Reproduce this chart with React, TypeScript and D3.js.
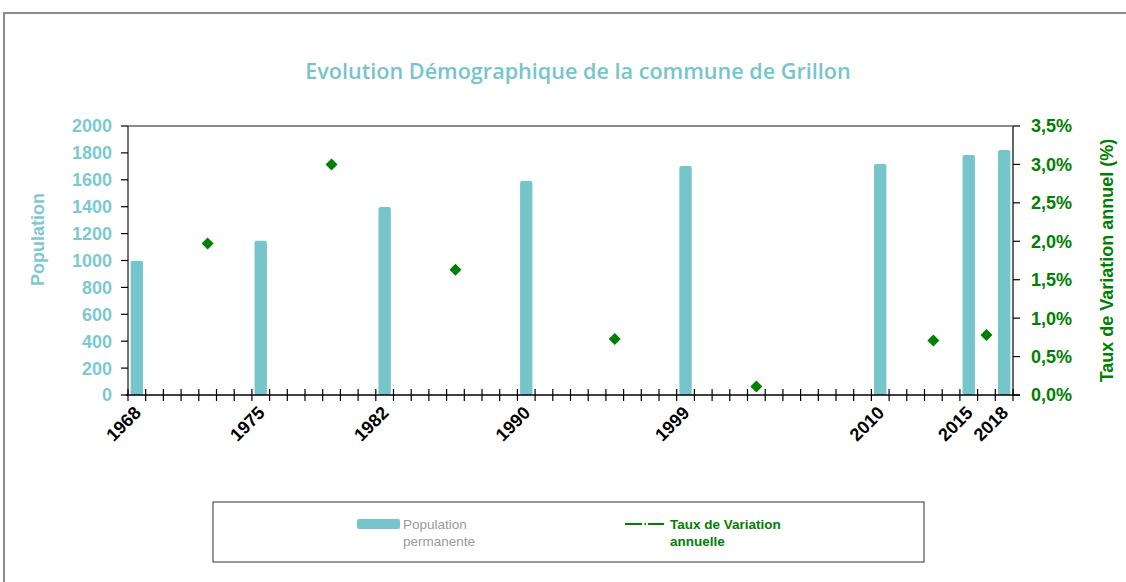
import * as d3 from "d3";

// census years as they sit on the date axis, and the labels printed under them
const censusYears = [1968, 1975, 1982, 1990, 1999, 2010, 2015, 2017];
const censusLabels = ["1968", "1975", "1982", "1990", "1999", "2010", "2015", "2018"];
const population = [998, 1147, 1398, 1591, 1703, 1717, 1784, 1822];

// annual variation rate, plotted between censuses
const rateYears = [1972, 1979, 1986, 1995, 2003, 2013, 2016];
const rateValues = [1.97, 3.0, 1.63, 0.73, 0.11, 0.71, 0.78];

const popTicks = [0, 200, 400, 600, 800, 1000, 1200, 1400, 1600, 1800, 2000];
const rateTicks = [0, 0.5, 1, 1.5, 2, 2.5, 3, 3.5];

const TEAL = "#76C5CB";
const TEAL_TEXT = "#7DC9CF";
const GREEN = "#008000";
const FONT = "'Liberation Sans', Arial, sans-serif";

const W = 1126;
const H = 582;
const margin = { left: 128, right: 113, top: 126, bottom: 187 };

export default function App() {
  const innerL = margin.left;
  const innerR = W - margin.right;
  const innerT = margin.top;
  const innerB = H - margin.bottom;

  const x = d3.scaleLinear().domain([1968, 2018]).range([innerL, innerR]);
  const yPop = d3.scaleLinear().domain([0, 2000]).range([innerB, innerT]);
  const yRate = d3.scaleLinear().domain([0, 3.5]).range([innerB, innerT]);

  const slot = x(1969) - x(1968);
  const barW = slot * 0.7;
  const yearTicks = d3.range(1968, 2019);
  const fmtRate = (v: number) => d3.format(".1f")(v).replace(".", ",") + "%";

  return (
    <svg
      width={W}
      height={H}
      style={{ position: "absolute", left: 0, top: 0, background: "#fff" }}
      fontFamily={FONT}
    >
      {/* chart frame, runs off the bottom/right of the picture */}
      <rect x={4} y={13} width={W} height={H} fill="#fff" stroke="#8c8c8c" strokeWidth={2} />

      <text
        x={578}
        y={79}
        textAnchor="middle"
        fill={TEAL}
        fontSize={21.6}
        fontWeight={600}
        fontFamily="'Open Sans', sans-serif"
      >
        Evolution Démographique de la commune de Grillon
      </text>

      {/* plot frame */}
      <line x1={innerL} x2={innerR} y1={innerT} y2={innerT} stroke="#666" strokeWidth={1.5} />
      <line x1={innerR} x2={innerR} y1={innerT} y2={innerB} stroke="#666" strokeWidth={2} />
      <line x1={innerL} x2={innerL} y1={innerT} y2={innerB} stroke="#444" strokeWidth={1.5} />

      {/* bars */}
      {censusYears.map((yr, i) => {
        const cx = x(yr + 0.5);
        return (
          <rect
            key={yr}
            x={cx - barW / 2}
            y={yPop(population[i])}
            width={barW}
            height={innerB - yPop(population[i])}
            rx={2}
            fill={TEAL}
          />
        );
      })}

      {/* x axis */}
      <line x1={innerL - 2} x2={innerR + 7} y1={innerB} y2={innerB} stroke="#000" strokeWidth={1.5} />
      {yearTicks.map((yr) => (
        <line key={yr} x1={x(yr)} x2={x(yr)} y1={innerB - 6} y2={innerB + 6} stroke="#000" strokeWidth={1.2} />
      ))}
      {censusLabels.map((label, i) => (
        <text
          key={label}
          transform={`translate(${x(censusYears[i]) + 14},${innerB + 19}) rotate(-45)`}
          textAnchor="end"
          fontSize={18}
          fontWeight="bold"
          fill="#000"
        >
          {label}
        </text>
      ))}

      {/* left axis */}
      {popTicks.map((t) => (
        <g key={t}>
          <line x1={innerL - 7} x2={innerL} y1={yPop(t)} y2={yPop(t)} stroke="#000" strokeWidth={1.2} />
          <text x={innerL - 16} y={yPop(t)} dy="0.36em" textAnchor="end" fontSize={18} fontWeight="bold" fill={TEAL_TEXT}>
            {t}
          </text>
        </g>
      ))}
      <text
        transform={`translate(44,${(innerT + innerB) / 2 - 21}) rotate(-90)`}
        textAnchor="middle"
        fontSize={18}
        fontWeight="bold"
        fill={TEAL_TEXT}
      >
        Population
      </text>

      {/* right axis */}
      {rateTicks.map((t) => (
        <g key={t}>
          <line x1={innerR} x2={innerR + 7} y1={yRate(t)} y2={yRate(t)} stroke="#000" strokeWidth={1.2} />
          <text x={innerR + 18} y={yRate(t)} dy="0.36em" fontSize={18} fontWeight="bold" fill={GREEN}>
            {fmtRate(t)}
          </text>
        </g>
      ))}
      <text
        transform={`translate(1113,${(innerT + innerB) / 2}) rotate(-90)`}
        textAnchor="middle"
        fontSize={18}
        fontWeight="bold"
        fill={GREEN}
      >
        Taux de Variation annuel (%)
      </text>

      {/* rate markers */}
      {rateYears.map((yr, i) => {
        const cx = x(yr + 0.5);
        const cy = yRate(rateValues[i]);
        const r = 6;
        return (
          <path
            key={yr}
            d={`M${cx},${cy - r}L${cx + r},${cy}L${cx},${cy + r}L${cx - r},${cy}Z`}
            fill={GREEN}
          />
        );
      })}

      {/* legend */}
      <rect x={213} y={502} width={711} height={60} fill="#fff" stroke="#333" strokeWidth={1} />
      <rect x={357} y={519} width={43} height={10} rx={2} fill={TEAL} />
      <text x={403} y={529} fontSize={13.5} fill="#9a9a9a">
        Population
      </text>
      <text x={403} y={546} fontSize={13.5} fill="#9a9a9a">
        permanente
      </text>
      <line x1={625} x2={642} y1={524} y2={524} stroke={GREEN} strokeWidth={2} />
      <line x1={644.5} x2={646} y1={524} y2={524} stroke={GREEN} strokeWidth={2} />
      <line x1={648} x2={664} y1={524} y2={524} stroke={GREEN} strokeWidth={2} />
      <text x={670} y={529} fontSize={13.5} fontWeight="bold" fill={GREEN}>
        Taux de Variation
      </text>
      <text x={670} y={546} fontSize={13.5} fontWeight="bold" fill={GREEN}>
        annuelle
      </text>
    </svg>
  );
}
